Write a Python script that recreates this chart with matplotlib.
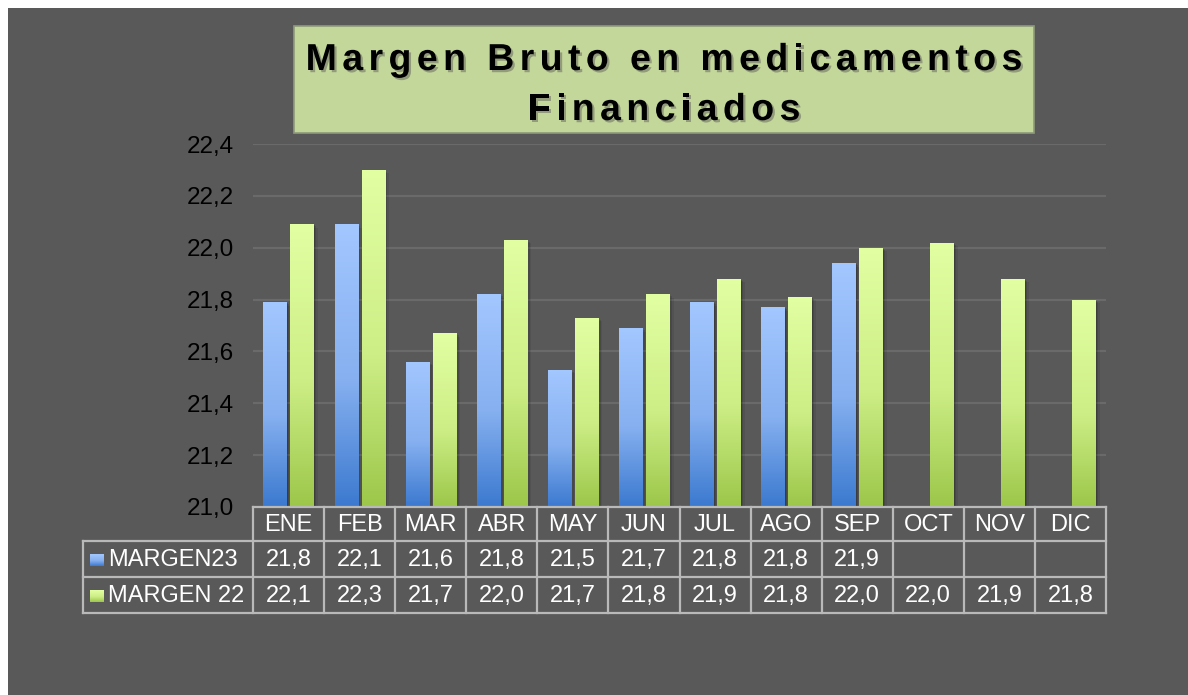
import numpy as np
import matplotlib
matplotlib.use("Agg")
import matplotlib.pyplot as plt
from matplotlib import font_manager, ft2font
from matplotlib.colors import LinearSegmentedColormap
from matplotlib.patches import Rectangle
from matplotlib.lines import Line2D
import matplotlib.patheffects as pe
import matplotlib.transforms as mtransforms

# ---------------- data ----------------
months = ["ENE", "FEB", "MAR", "ABR", "MAY", "JUN", "JUL", "AGO", "SEP", "OCT", "NOV", "DIC"]
margen23 = [21.79, 22.09, 21.56, 21.82, 21.53, 21.69, 21.79, 21.77, 21.94, np.nan, np.nan, np.nan]
margen22 = [22.09, 22.30, 21.67, 22.03, 21.73, 21.82, 21.88, 21.81, 22.00, 22.02, 21.88, 21.80]
series_names = ["MARGEN23", "MARGEN 22"]
title_lines = ["Margen Bruto en medicamentos", "Financiados"]
yticks = [21.0, 21.2, 21.4, 21.6, 21.8, 22.0, 22.2, 22.4]

plt.rcParams["font.family"] = ["Liberation Sans", "DejaVu Sans"]

W, H = 1188, 695
fig = plt.figure(figsize=(W / 100, H / 100), dpi=100)
fig.patch.set_facecolor("white")

def P(x, y):
    return (x / W, 1 - y / H)

# background
fig.add_artist(Rectangle(P(8, H), (W - 8) / W, (H - 8) / H, transform=fig.transFigure,
                         facecolor="#595959", edgecolor="none", zorder=0))

# ---------------- axes ----------------
L, R, T, B = 253, 1106, 144, 507
ax = fig.add_axes([L / W, 1 - B / H, (R - L) / W, (B - T) / H])
ax.set_facecolor("none")
for s in ax.spines.values():
    s.set_visible(False)
ax.yaxis.grid(True, color="#6a6a6a", lw=1.6)
ax.set_axisbelow(True)
ax.set_yticks(yticks)
ax.set_yticklabels([f"{v:.1f}".replace(".", ",") for v in yticks])
ax.tick_params(axis="y", length=0, pad=14, labelsize=17.5, labelcolor="black")
ax.set_xticks([])

blue_cmap = LinearSegmentedColormap.from_list("b", [(0, "#3b79cf"), (0.45, "#86b0f0"), (1, "#a3c7ff")])
green_cmap = LinearSegmentedColormap.from_list("g", [(0, "#9cc74a"), (0.45, "#cdee86"), (1, "#e2ffa2")])
grad = np.linspace(0, 1, 256).reshape(-1, 1)

x = np.arange(len(months))
bw = 0.325
off = 0.19
base = yticks[0]
for vals, dx, cmap in [(margen23, -off, blue_cmap), (margen22, off, green_cmap)]:
    vals = np.array(vals, dtype=float)
    # soft shadow
    for k, (ox, oy, a) in enumerate([(2.5, -2.5, 0.08), (1.5, -1.5, 0.12), (0.8, -0.8, 0.16)]):
        tr = mtransforms.offset_copy(ax.transData, fig=fig, x=ox, y=oy, units="points")
        ax.bar(x + dx, vals - base, bottom=base, width=bw + 0.01 * (3 - k), color="black",
               alpha=a, transform=tr, zorder=2, linewidth=0)
    bars = ax.bar(x + dx, vals - base, bottom=base, width=bw, facecolor="none",
                  edgecolor="none", zorder=3)
    for bar, v in zip(bars, vals):
        if np.isnan(v):
            continue
        x0 = bar.get_x()
        im = ax.imshow(grad, extent=[x0, x0 + bw, base, v], origin="lower", cmap=cmap,
                       aspect="auto", zorder=3, interpolation="bilinear")
        im.set_clip_path(bar)
ax.set_xlim(-0.5, len(months) - 0.5)
ax.set_ylim(yticks[0], yticks[-1])

# ---------------- data table ----------------
lc = "#b9b9b9"
lw = 1.6
rows_y = [507, 541, 577, 613]
col_w = (R - L) / len(months)
legend_left = 83

def hline(y, x0, x1):
    fig.add_artist(Line2D([x0 / W, x1 / W], [1 - y / H, 1 - y / H], transform=fig.transFigure,
                          color=lc, lw=lw, zorder=5))

def vline(xp, y0, y1):
    fig.add_artist(Line2D([xp / W, xp / W], [1 - y0 / H, 1 - y1 / H], transform=fig.transFigure,
                          color=lc, lw=lw, zorder=5))

hline(rows_y[0], L, R)
for yy in rows_y[1:]:
    hline(yy, legend_left, R)
vline(legend_left, rows_y[1], rows_y[3])
for i in range(len(months) + 1):
    vline(L + i * col_w, rows_y[0], rows_y[3])

tfs = 17
for i, m in enumerate(months):
    cx = L + (i + 0.5) * col_w
    fig.text(*P(cx, (rows_y[0] + rows_y[1]) / 2 + 1), m, ha="center", va="center",
             color="white", fontsize=tfs, zorder=6)
for r, (vals, name, cmap) in enumerate([(margen23, series_names[0], blue_cmap),
                                         (margen22, series_names[1], green_cmap)]):
    cy = (rows_y[r + 1] + rows_y[r + 2]) / 2 + 1
    for i, v in enumerate(vals):
        if np.isnan(v):
            continue
        cx = L + (i + 0.5) * col_w
        fig.text(*P(cx, cy), f"{v:.1f}".replace(".", ","), ha="center", va="center",
                 color="white", fontsize=tfs, zorder=6)
    fig.text(*P(108, cy), name, ha="left", va="center", color="white", fontsize=tfs, zorder=6)
    # legend key with gradient
    kax = fig.add_axes([90 / W, 1 - (cy + 6) / H, 13 / W, 12 / H])
    kax.imshow(grad, origin="lower", cmap=cmap, aspect="auto", extent=[0, 1, 0, 1])
    kax.set_axis_off()

# ---------------- title ----------------
fig.add_artist(Rectangle(P(294, 133), (1034 - 294) / W, (133 - 26) / H, transform=fig.transFigure,
                         facecolor="#c4d79b", edgecolor="#8d9a7a", lw=1.2, zorder=4))

tsize = 27
fp = font_manager.FontProperties(family="Liberation Sans", weight="bold", size=tsize)
font = ft2font.FT2Font(font_manager.findfont(fp))
font.set_size(tsize, 100)

def advance(c):
    g = font.load_char(ord(c))
    return g.linearHoriAdvance / 65536

spacing = 5.4
shadow = [pe.withSimplePatchShadow(offset=(1.6, -1.6), shadow_rgbFace="#555555", alpha=0.45)]
for line, baseline in zip(title_lines, [70, 120]):
    advs = [advance(c) for c in line]
    total = sum(advs) + spacing * (len(line) - 1)
    xp = 664 - total / 2
    for c, a in zip(line, advs):
        if c != " ":
            fig.text(*P(xp, baseline), c, ha="left", va="baseline", fontproperties=fp,
                     color="black", zorder=6, path_effects=shadow)
        xp += a + spacing

fig.savefig("out.png", dpi=100, facecolor=fig.get_facecolor())
